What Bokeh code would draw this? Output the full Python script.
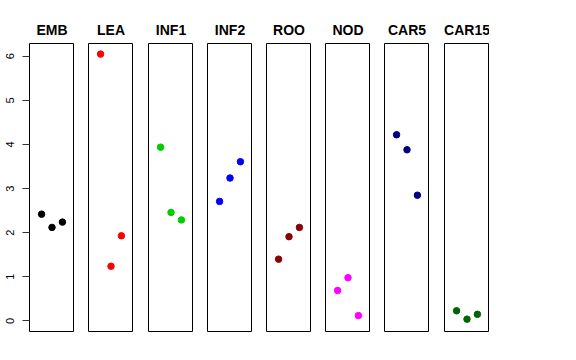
from bokeh.plotting import figure
from bokeh.layouts import row
from bokeh.models import Range1d, FixedTicker
from bokeh.embed import file_html
from bokeh.resources import INLINE

categories = ["EMB", "LEA", "INF1", "INF2", "ROO", "NOD", "CAR5", "CAR15"]
x_positions = [1, 2, 3]
emb = [2.42, 2.12, 2.24]
lea = [6.05, 1.24, 1.93]
inf1 = [3.94, 2.46, 2.29]
inf2 = [2.71, 3.24, 3.61]
roo = [1.40, 1.91, 2.12]
nod = [0.69, 0.98, 0.12]
car5 = [4.22, 3.88, 2.85]
car15 = [0.23, 0.04, 0.15]
series = [emb, lea, inf1, inf2, roo, nod, car5, car15]
colors = ["#000000", "#FF0000", "#00CD00", "#0000FF", "#8B0000", "#FF00FF", "#000080", "#006400"]
y_ticks = [0, 1, 2, 3, 4, 5, 6]

FONT = "Liberation Sans"
frame_w = 45
frame_h = 288
first_left = 29
pitch = 59.25

figs = []
prev_end = 0
for i, (cat, ys, col) in enumerate(zip(categories, series, colors)):
    target_left = round(first_left + pitch * i)
    if i == 0:
        p = figure(frame_width=frame_w, frame_height=frame_h, output_backend="svg",
                   toolbar_location=None, x_axis_type=None,
                   x_range=Range1d(-0.16, 4.16), y_range=Range1d(-0.24, 6.29),
                   min_border_left=first_left, min_border_right=0,
                   min_border_top=43, min_border_bottom=12)
        ax = p.yaxis[0]
        ax.ticker = FixedTicker(ticks=y_ticks)
        ax.axis_line_color = None
        ax.major_tick_out = 7
        ax.major_tick_in = 0
        ax.minor_tick_line_color = None
        ax.major_tick_line_color = "#333333"
        ax.major_label_orientation = "vertical"
        ax.major_label_standoff = 8
        ax.major_label_text_font = FONT
        ax.major_label_text_font_size = "11px"
        ax.major_label_text_color = "#000000"
        prev_end = first_left + frame_w
    else:
        gap = target_left - prev_end
        p = figure(frame_width=frame_w, frame_height=frame_h, output_backend="svg",
                   toolbar_location=None, x_axis_type=None, y_axis_type=None,
                   x_range=Range1d(-0.16, 4.16), y_range=Range1d(-0.24, 6.29),
                   min_border_left=gap, min_border_right=0,
                   min_border_top=43, min_border_bottom=12)
        prev_end = target_left + frame_w
    p.title.text = cat
    p.title.align = "center"
    p.title.text_font = FONT
    p.title.text_font_size = "14px"
    p.title.text_font_style = "bold"
    p.title.text_color = "#000000"
    p.title.standoff = 12
    p.outline_line_color = "#000000"
    p.outline_line_width = 1
    p.outline_line_alpha = 1
    p.xgrid.visible = False
    p.ygrid.visible = False
    p.background_fill_color = "white"
    p.border_fill_color = "white"
    p.scatter(x_positions, ys, size=6.5, color=col, line_color=col)
    figs.append(p)

layout = row(*figs, spacing=0)
open("out.html", "w").write(file_html(layout, INLINE))
